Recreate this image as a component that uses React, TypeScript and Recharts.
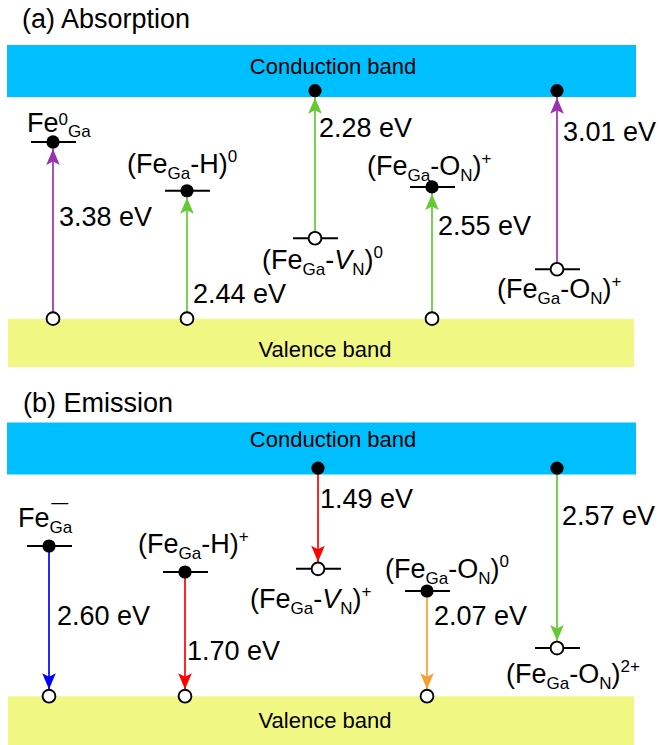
import React from 'react';
import { ComposedChart, Line, Scatter, XAxis, YAxis, ReferenceArea } from 'recharts';

const FONT = '"Liberation Sans", Arial, Helvetica, sans-serif';

// schematic energies, eV above the valence-band top
const GAP = 3.5;
const CB_TOP = 4.32;
const CB_STATE = 3.6;

type Seg = { t: string; o?: number; i?: boolean; dx?: number };
type Label = { x: number; y: number; segs: Seg[]; size?: number; anchor?: 'start' | 'middle' };
type Transition = { x: number; from: number; to: number; color: string };

const COLORS: Record<string, string> = {
  purple: '#9B30B0',
  green: '#66C833',
  red: '#FF0000',
  blue: '#0000FF',
  orange: '#F5A030',
};

const sub = (t: string): Seg => ({ t, o: 6 });
const sup = (t: string): Seg => ({ t, o: -11 });

const absorption: Transition[] = [
  { x: 53, from: 0, to: 2.79, color: 'purple' },
  { x: 187, from: 0, to: 2.02, color: 'green' },
  { x: 315, from: 1.27, to: CB_STATE, color: 'green' },
  { x: 432, from: 0, to: 2.08, color: 'green' },
  { x: 557, from: 0.78, to: CB_STATE, color: 'purple' },
];

const emission: Transition[] = [
  { x: 49, from: 2.37, to: 0, color: 'blue' },
  { x: 185, from: 1.96, to: 0, color: 'red' },
  { x: 318, from: CB_STATE, to: 2.01, color: 'red' },
  { x: 427, from: 1.66, to: 0, color: 'orange' },
  { x: 557, from: CB_STATE, to: 0.76, color: 'green' },
];

const absorptionLabels: Label[] = [
  { x: 22, y: 4.59, segs: [{ t: '(a) Absorption' }] },
  { x: 333, y: 3.86, segs: [{ t: 'Conduction band' }], size: 22, anchor: 'middle' },
  { x: 325, y: -0.607, segs: [{ t: 'Valence band' }], size: 22, anchor: 'middle' },
  { x: 27, y: 2.95, segs: [{ t: 'Fe' }, { t: '0', o: -7 }, { t: 'Ga', o: 5 }] },
  { x: 59, y: 1.46, segs: [{ t: '3.38 eV' }] },
  { x: 127, y: 2.3, segs: [{ t: '(Fe' }, sub('Ga'), { t: '-H)' }, sup('0')] },
  { x: 193, y: 0.247, segs: [{ t: '2.44 eV' }] },
  { x: 319, y: 2.87, segs: [{ t: '2.28 eV' }] },
  { x: 262, y: 0.78, segs: [{ t: '(Fe' }, sub('Ga'), { t: '-' }, { t: 'V', i: true }, sub('N'), { t: ')' }, sup('0')] },
  { x: 367, y: 2.27, segs: [{ t: '(Fe' }, sub('Ga'), { t: '-O' }, sub('N'), { t: ')' }, sup('+')] },
  { x: 438, y: 1.32, segs: [{ t: '2.55 eV' }] },
  { x: 563, y: 2.8, segs: [{ t: '3.01 eV' }] },
  { x: 497, y: 0.326, segs: [{ t: '(Fe' }, sub('Ga'), { t: '-O' }, sub('N'), { t: ')' }, sup('+')] },
];

const emissionLabels: Label[] = [
  { x: 23, y: 4.49, segs: [{ t: '(b) Emission' }] },
  { x: 333, y: 3.93, segs: [{ t: 'Conduction band' }], size: 22, anchor: 'middle' },
  { x: 325, y: -0.5, segs: [{ t: 'Valence band' }], size: 22, anchor: 'middle' },
  { x: 18, y: 2.67, segs: [{ t: 'Fe' }, sub('Ga'), { t: '\u2014', o: -19, dx: -21 }] },
  { x: 57, y: 1.12, segs: [{ t: '2.60 eV' }] },
  { x: 138, y: 2.26, segs: [{ t: '(Fe' }, sub('Ga'), { t: '-H)' }, sup('+')] },
  { x: 187, y: 0.571, segs: [{ t: '1.70 eV' }] },
  { x: 320, y: 2.97, segs: [{ t: '1.49 eV' }] },
  { x: 250, y: 1.39, segs: [{ t: '(Fe' }, sub('Ga'), { t: '-' }, { t: 'V', i: true }, sub('N'), { t: ')' }, sup('+')] },
  { x: 385, y: 1.87, segs: [{ t: '(Fe' }, sub('Ga'), { t: '-O' }, sub('N'), { t: ')' }, sup('0')] },
  { x: 434, y: 1.12, segs: [{ t: '2.07 eV' }] },
  { x: 562, y: 2.7, segs: [{ t: '2.57 eV' }] },
  { x: 506, y: 0.21, segs: [{ t: '(Fe' }, sub('Ga'), { t: '-O' }, sub('N'), { t: ')' }, sup('2+')] },
];

function RichText({ x, y, segs, size = 27, anchor = 'start' }: any) {
  let cur = 0;
  return (
    <text x={x} y={y} fontSize={size} fontFamily={FONT} fill="#000" textAnchor={anchor}>
      {segs.map((g: Seg, k: number) => {
        const off = g.o ?? 0;
        const dy = off - cur;
        cur = off;
        return (
          <tspan key={k} dy={dy} dx={g.dx} fontSize={g.o !== undefined ? 17 : undefined} fontStyle={g.i ? 'italic' : undefined}>
            {g.t}
          </tspan>
        );
      })}
    </text>
  );
}

const LabelShape = (p: any) => (
  <RichText x={p.cx} y={p.cy} segs={p.payload.segs} size={p.payload.size} anchor={p.payload.anchor} />
);

const StateShape = (p: any) => {
  const { cx, cy, payload } = p;
  return (
    <g>
      {payload.level && <line x1={cx - 22} x2={cx + 23} y1={cy} y2={cy} stroke="#000" strokeWidth={2} />}
      {payload.filled ? (
        <circle cx={cx} cy={cy} r={6.6} fill="#000" />
      ) : (
        <circle cx={cx} cy={cy} r={6.4} fill="#fff" stroke="#000" strokeWidth={1.9} />
      )}
    </g>
  );
};

const HeadShape = (p: any) => {
  const { cx, cy, payload } = p;
  const d = payload.up ? 1 : -1;
  const tip = cy + d * 7;
  const base = tip + d * 16;
  const notch = base - d * 3.5;
  return (
    <path
      d={`M${cx},${tip} L${cx - 6.8},${base} L${cx},${notch} L${cx + 6.8},${base} Z`}
      fill={COLORS[payload.color]}
    />
  );
};

function Panel({ transitions, labels, domain, height, vbBottom }: any) {
  const states = transitions.flatMap((t: Transition) =>
    [t.from, t.to].map((y) => ({
      x: t.x,
      y,
      filled: y === Math.max(t.from, t.to),
      level: y > 0 && y < GAP,
    }))
  );
  const heads = transitions.map((t: Transition) => ({ x: t.x, y: t.to, up: t.to > t.from, color: t.color }));
  return (
    <ComposedChart width={659} height={height} margin={{ top: 0, right: 0, bottom: 0, left: 0 }}>
      <XAxis type="number" dataKey="x" domain={[0, 659]} hide allowDataOverflow />
      <YAxis type="number" dataKey="y" domain={domain} hide allowDataOverflow />
      <ReferenceArea x1={7} x2={636} y1={GAP} y2={CB_TOP} fill="#00BFFF" fillOpacity={1} stroke="none" />
      <ReferenceArea x1={8} x2={634} y1={vbBottom} y2={0} fill="#F0F883" fillOpacity={1} stroke="none" />
      {transitions.map((t: Transition, k: number) => (
        <Line
          key={k}
          data={[{ x: t.x, y: t.from }, { x: t.x, y: t.to }]}
          dataKey="y"
          type="linear"
          stroke={COLORS[t.color]}
          strokeWidth={1.7}
          dot={false}
          activeDot={false}
          isAnimationActive={false}
        />
      ))}
      <Scatter data={heads} shape={HeadShape} isAnimationActive={false} />
      <Scatter data={states} shape={StateShape} isAnimationActive={false} />
      <Scatter data={labels} shape={LabelShape} isAnimationActive={false} />
    </ComposedChart>
  );
}

export default function App() {
  return (
    <div style={{ position: 'absolute', left: 0, top: 0, width: 659, height: 745, background: '#fff' }}>
      <div style={{ position: 'absolute', left: 0, top: 2 }}>
        <Panel transitions={absorption} labels={absorptionLabels} domain={[-1, 5]} height={380} vbBottom={-0.763} />
      </div>
      <div style={{ position: 'absolute', left: 0, top: 380 }}>
        <Panel transitions={emission} labels={emissionLabels} domain={[-0.77, 4.99]} height={365} vbBottom={-0.77} />
      </div>
    </div>
  );
}
